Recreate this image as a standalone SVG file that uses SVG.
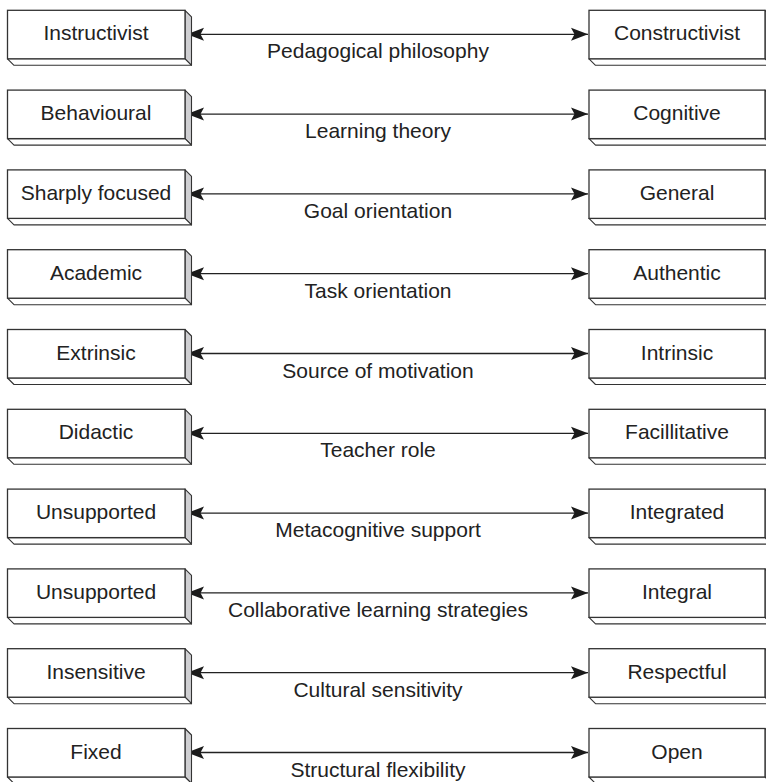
<svg xmlns="http://www.w3.org/2000/svg" width="766" height="782" viewBox="0 0 766 782">
<style>
.front{fill:#ffffff;stroke:#333333;stroke-width:1.3}
.side{fill:#cfcfd2;stroke:#333333;stroke-width:1.1;stroke-linejoin:round}
.bot{fill:#ffffff;stroke:#333333;stroke-width:1.1;stroke-linejoin:round}
.t{font-family:"Liberation Sans",Arial,sans-serif;font-size:21px;fill:#222222;text-anchor:middle}
.ln{stroke:#222222;stroke-width:1.3;fill:none;marker-start:url(#ah);marker-end:url(#ah)}
</style>
<defs>
<marker id="ah" viewBox="-19 -8 20 16" refX="0" refY="0" markerWidth="20" markerHeight="16" markerUnits="userSpaceOnUse" orient="auto-start-reverse">
<path d="M0,0 L-17,-6.5 L-13.5,0 L-17,6.5 Z" fill="#1a1a1a"/>
</marker>
<g id="lbox">
<polygon class="side" points="185,-24 191.5,-17.5 191.5,31 185,24.5"/>
<polygon class="bot" points="7.5,24.5 185,24.5 191.5,31 14,31"/>
<rect class="front" x="7.5" y="-24" width="177.5" height="48.5"/>
</g>
<g id="rbox">
<polygon class="side" points="765,-24 771.5,-17.5 771.5,31 765,24.5"/>
<polygon class="bot" points="589,24.5 765,24.5 771.5,31 595.5,31"/>
<rect class="front" x="589" y="-24" width="176" height="48.5"/>
</g>
</defs>
<g id="connectors">
<g transform="translate(0,34.3)"><line class="ln" x1="187" y1="0" x2="588" y2="0"/><text class="t" x="378" y="24">Pedagogical philosophy</text></g>
<g transform="translate(0,114.1)"><line class="ln" x1="187" y1="0" x2="588" y2="0"/><text class="t" x="378" y="24">Learning theory</text></g>
<g transform="translate(0,193.9)"><line class="ln" x1="187" y1="0" x2="588" y2="0"/><text class="t" x="378" y="24">Goal orientation</text></g>
<g transform="translate(0,273.7)"><line class="ln" x1="187" y1="0" x2="588" y2="0"/><text class="t" x="378" y="24">Task orientation</text></g>
<g transform="translate(0,353.5)"><line class="ln" x1="187" y1="0" x2="588" y2="0"/><text class="t" x="378" y="24">Source of motivation</text></g>
<g transform="translate(0,433.3)"><line class="ln" x1="187" y1="0" x2="588" y2="0"/><text class="t" x="378" y="24">Teacher role</text></g>
<g transform="translate(0,513.1)"><line class="ln" x1="187" y1="0" x2="588" y2="0"/><text class="t" x="378" y="24">Metacognitive support</text></g>
<g transform="translate(0,592.9)"><line class="ln" x1="187" y1="0" x2="588" y2="0"/><text class="t" x="378" y="24">Collaborative learning strategies</text></g>
<g transform="translate(0,672.7)"><line class="ln" x1="187" y1="0" x2="588" y2="0"/><text class="t" x="378" y="24">Cultural sensitivity</text></g>
<g transform="translate(0,752.5)"><line class="ln" x1="187" y1="0" x2="588" y2="0"/><text class="t" x="378" y="24">Structural flexibility</text></g>
</g>
<g id="node-instructivist" transform="translate(0,34.3)"><use href="#lbox"/><text class="t" x="96" y="6">Instructivist</text></g>
<g id="node-constructivist" transform="translate(0,34.3)"><use href="#rbox"/><text class="t" x="677" y="6">Constructivist</text></g>
<g id="node-behavioural" transform="translate(0,114.1)"><use href="#lbox"/><text class="t" x="96" y="6">Behavioural</text></g>
<g id="node-cognitive" transform="translate(0,114.1)"><use href="#rbox"/><text class="t" x="677" y="6">Cognitive</text></g>
<g id="node-sharply-focused" transform="translate(0,193.9)"><use href="#lbox"/><text class="t" x="96" y="6">Sharply focused</text></g>
<g id="node-general" transform="translate(0,193.9)"><use href="#rbox"/><text class="t" x="677" y="6">General</text></g>
<g id="node-academic" transform="translate(0,273.7)"><use href="#lbox"/><text class="t" x="96" y="6">Academic</text></g>
<g id="node-authentic" transform="translate(0,273.7)"><use href="#rbox"/><text class="t" x="677" y="6">Authentic</text></g>
<g id="node-extrinsic" transform="translate(0,353.5)"><use href="#lbox"/><text class="t" x="96" y="6">Extrinsic</text></g>
<g id="node-intrinsic" transform="translate(0,353.5)"><use href="#rbox"/><text class="t" x="677" y="6">Intrinsic</text></g>
<g id="node-didactic" transform="translate(0,433.3)"><use href="#lbox"/><text class="t" x="96" y="6">Didactic</text></g>
<g id="node-facillitative" transform="translate(0,433.3)"><use href="#rbox"/><text class="t" x="677" y="6">Facillitative</text></g>
<g id="node-unsupported-1" transform="translate(0,513.1)"><use href="#lbox"/><text class="t" x="96" y="6">Unsupported</text></g>
<g id="node-integrated" transform="translate(0,513.1)"><use href="#rbox"/><text class="t" x="677" y="6">Integrated</text></g>
<g id="node-unsupported-2" transform="translate(0,592.9)"><use href="#lbox"/><text class="t" x="96" y="6">Unsupported</text></g>
<g id="node-integral" transform="translate(0,592.9)"><use href="#rbox"/><text class="t" x="677" y="6">Integral</text></g>
<g id="node-insensitive" transform="translate(0,672.7)"><use href="#lbox"/><text class="t" x="96" y="6">Insensitive</text></g>
<g id="node-respectful" transform="translate(0,672.7)"><use href="#rbox"/><text class="t" x="677" y="6">Respectful</text></g>
<g id="node-fixed" transform="translate(0,752.5)"><use href="#lbox"/><text class="t" x="96" y="6">Fixed</text></g>
<g id="node-open" transform="translate(0,752.5)"><use href="#rbox"/><text class="t" x="677" y="6">Open</text></g>
</svg>
